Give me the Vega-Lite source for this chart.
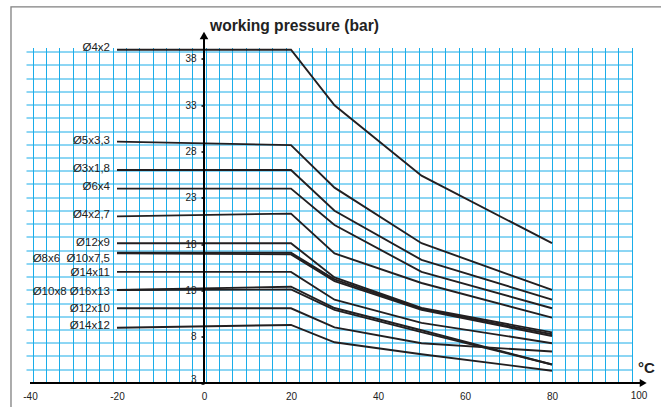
{
  "$schema": "https://vega.github.io/schema/vega-lite/v6.json",
  "width": 606,
  "height": 335.5,
  "autosize": {"type": "none"},
  "padding": {"left": 26, "top": 47.5, "right": 29, "bottom": 24},
  "background": "white",
  "config": {"view": {"stroke": null}, "font": "Liberation Sans"},
  "datasets": {
    "curves": [
      {"tube": "Ø4x2", "t": -20, "p": 39}, {"tube": "Ø4x2", "t": 20, "p": 39}, {"tube": "Ø4x2", "t": 30, "p": 33}, {"tube": "Ø4x2", "t": 50, "p": 25.4}, {"tube": "Ø4x2", "t": 80, "p": 18.1},
      {"tube": "Ø5x3,3", "t": -20, "p": 29.07}, {"tube": "Ø5x3,3", "t": 20, "p": 28.7}, {"tube": "Ø5x3,3", "t": 30, "p": 24.1}, {"tube": "Ø5x3,3", "t": 50, "p": 18.1}, {"tube": "Ø5x3,3", "t": 80, "p": 13.05},
      {"tube": "Ø3x1,8", "t": -20, "p": 26}, {"tube": "Ø3x1,8", "t": 20, "p": 26}, {"tube": "Ø3x1,8", "t": 30, "p": 21.6}, {"tube": "Ø3x1,8", "t": 50, "p": 16.3}, {"tube": "Ø3x1,8", "t": 80, "p": 12.0},
      {"tube": "Ø6x4", "t": -20, "p": 24}, {"tube": "Ø6x4", "t": 20, "p": 24}, {"tube": "Ø6x4", "t": 30, "p": 20.07}, {"tube": "Ø6x4", "t": 50, "p": 15.0}, {"tube": "Ø6x4", "t": 80, "p": 11.07},
      {"tube": "Ø4x2,7", "t": -20, "p": 21.0}, {"tube": "Ø4x2,7", "t": 20, "p": 21.3}, {"tube": "Ø4x2,7", "t": 30, "p": 17.0}, {"tube": "Ø4x2,7", "t": 50, "p": 13.8}, {"tube": "Ø4x2,7", "t": 80, "p": 10.06},
      {"tube": "Ø12x9", "t": -20, "p": 18.1}, {"tube": "Ø12x9", "t": 20, "p": 18.1}, {"tube": "Ø12x9", "t": 30, "p": 14.4}, {"tube": "Ø12x9", "t": 50, "p": 11.1}, {"tube": "Ø12x9", "t": 80, "p": 8.47},
      {"tube": "Ø8x6", "t": -20, "p": 17.07}, {"tube": "Ø8x6", "t": 20, "p": 17.07}, {"tube": "Ø8x6", "t": 30, "p": 14.2}, {"tube": "Ø8x6", "t": 50, "p": 11.0}, {"tube": "Ø8x6", "t": 80, "p": 8.26},
      {"tube": "Ø10x7,5", "t": -20, "p": 17.0}, {"tube": "Ø10x7,5", "t": 20, "p": 16.9}, {"tube": "Ø10x7,5", "t": 30, "p": 14.0}, {"tube": "Ø10x7,5", "t": 50, "p": 10.9}, {"tube": "Ø10x7,5", "t": 80, "p": 8.08},
      {"tube": "Ø14x11", "t": -20, "p": 15.0}, {"tube": "Ø14x11", "t": 20, "p": 15.0}, {"tube": "Ø14x11", "t": 30, "p": 12.0}, {"tube": "Ø14x11", "t": 50, "p": 9.5}, {"tube": "Ø14x11", "t": 80, "p": 7.3},
      {"tube": "Ø10x8", "t": -20, "p": 13.05}, {"tube": "Ø10x8", "t": 20, "p": 13.4}, {"tube": "Ø10x8", "t": 30, "p": 11.1}, {"tube": "Ø10x8", "t": 50, "p": 8.7}, {"tube": "Ø10x8", "t": 80, "p": 5.0},
      {"tube": "Ø16x13", "t": -20, "p": 13.05}, {"tube": "Ø16x13", "t": 20, "p": 13.1}, {"tube": "Ø16x13", "t": 30, "p": 10.9}, {"tube": "Ø16x13", "t": 50, "p": 8.5}, {"tube": "Ø16x13", "t": 80, "p": 5.0},
      {"tube": "Ø12x10", "t": -20, "p": 11.07}, {"tube": "Ø12x10", "t": 20, "p": 11.07}, {"tube": "Ø12x10", "t": 30, "p": 9.0}, {"tube": "Ø12x10", "t": 50, "p": 7.3}, {"tube": "Ø12x10", "t": 80, "p": 6.4},
      {"tube": "Ø14x12", "t": -20, "p": 8.97}, {"tube": "Ø14x12", "t": 20, "p": 9.27}, {"tube": "Ø14x12", "t": 30, "p": 7.4}, {"tube": "Ø14x12", "t": 50, "p": 6.1}, {"tube": "Ø14x12", "t": 80, "p": 4.33}
    ],
    "tags": [
      {"tag": "Ø4x2", "t": -20, "p": 39.17},
      {"tag": "Ø5x3,3", "t": -20, "p": 29.14},
      {"tag": "Ø3x1,8", "t": -20, "p": 26.14},
      {"tag": "Ø6x4", "t": -20, "p": 24.12},
      {"tag": "Ø4x2,7", "t": -20, "p": 21.12},
      {"tag": "Ø12x9", "t": -20, "p": 18.07},
      {"tag": "Ø8x6\u00a0\u00a0Ø10x7,5", "t": -20, "p": 16.4},
      {"tag": "Ø14x11", "t": -20, "p": 14.83},
      {"tag": "Ø10x8\u00a0Ø16x13", "t": -20, "p": 12.88},
      {"tag": "Ø12x10", "t": -20, "p": 10.96},
      {"tag": "Ø14x12", "t": -20, "p": 9.13}
    ]
  },
  "layer": [
    {
      "data": {"values": [{}]},
      "mark": {"type": "rect", "fillOpacity": 0, "stroke": "#808080", "strokeWidth": 1.3},
      "encoding": {
        "x": {"datum": -44.37, "type": "quantitative", "axis": null},
        "x2": {"datum": 109.4},
        "y": {"datum": 43.62, "type": "quantitative", "axis": null},
        "y2": {"datum": -2.1}
      }
    },
    {
      "data": {"name": "curves"},
      "mark": {"type": "line", "color": "#231f20", "strokeWidth": 1.9},
      "encoding": {
        "x": {
          "field": "t", "type": "quantitative",
          "scale": {"domain": [-40.92, 98.39], "nice": false, "zero": false},
          "axis": {
            "orient": "bottom", "title": null, "labels": false, "ticks": false, "domain": false,
            "grid": true, "gridColor": "#1aade9", "gridWidth": 1,
            "values": [-39.379, -36.319, -33.259, -30.199, -27.139, -24.079, -21.019, -17.959, -14.899, -11.839, -8.779, -5.719, -2.659, 0.401, 3.461, 6.521, 9.581, 12.641, 15.701, 18.761, 21.821, 24.881, 27.941, 31.001, 34.061, 37.121, 40.181, 43.241, 46.301, 49.361, 52.421, 55.481, 58.541, 61.601, 64.661, 67.721, 70.781, 73.841, 76.901, 79.961, 83.021, 86.081, 89.141, 92.201, 95.261, 98.321]
          }
        },
        "y": {
          "field": "p", "type": "quantitative",
          "scale": {"domain": [3, 39.24], "nice": false, "zero": false},
          "axis": {
            "orient": "left", "title": null, "labels": false, "ticks": false, "domain": false,
            "grid": true, "gridColor": "#1aade9", "gridWidth": 1,
            "values": [38.789, 37.360, 35.931, 34.501, 33.072, 31.643, 30.214, 28.784, 27.355, 25.926, 24.497, 23.068, 21.638, 20.209, 18.780, 17.351, 15.921, 14.492, 13.063, 11.634, 10.205, 8.775, 7.346, 5.917, 4.488]
          }
        },
        "detail": {"field": "tube", "type": "nominal"}
      }
    },
    {
      "data": {"name": "tags"},
      "mark": {"type": "text", "align": "right", "baseline": "middle", "dx": -7, "fontSize": 11.5, "color": "#222222", "font": "Liberation Sans"},
      "encoding": {
        "x": {
          "field": "t", "type": "quantitative",
          "axis": {
            "orient": "bottom", "title": null, "grid": false, "ticks": false, "domain": false,
            "values": [-40, -20, 0, 20, 40, 60, 80], "labelExpr": "'' + datum.value",
            "labelPadding": 8, "labelFontSize": 10, "labelColor": "#222222", "labelFlush": false, "labelOverlap": false, "labelBound": false
          }
        },
        "y": {
          "field": "p", "type": "quantitative",
          "axis": {
            "orient": "left", "offset": -178, "title": null, "grid": false, "domain": false,
            "values": [3, 8, 13, 18, 23, 28, 33, 38],
            "ticks": true, "tickSize": 3, "tickColor": "#000000", "tickWidth": 1.5,
            "labelPadding": 5, "labelFontSize": 10, "labelColor": "#222222", "labelOverlap": false, "labelBound": false,
            "labelOffset": {"condition": {"test": "datum.value === 3", "value": -4}, "value": 0}
          }
        },
        "text": {"field": "tag", "type": "nominal"}
      }
    },
    {
      "data": {"values": [{}]},
      "mark": {"type": "rule", "color": "#000000", "strokeWidth": 2},
      "encoding": {
        "x": {"datum": 0, "type": "quantitative", "axis": null},
        "y": {"datum": 3, "type": "quantitative", "axis": null},
        "y2": {"datum": 40.3}
      }
    },
    {
      "data": {"values": [{}]},
      "mark": {"type": "rule", "color": "#000000", "strokeWidth": 2},
      "encoding": {
        "x": {"datum": -40, "type": "quantitative", "axis": null},
        "x2": {"datum": 100.5},
        "y": {"datum": 3, "type": "quantitative", "axis": null}
      }
    },
    {
      "data": {"values": [{}]},
      "mark": {"type": "point", "shape": "triangle-up", "filled": true, "color": "#000000", "size": 75, "opacity": 1},
      "encoding": {
        "x": {"datum": 0, "type": "quantitative", "axis": null},
        "y": {"datum": 40.54, "type": "quantitative", "axis": null}
      }
    },
    {
      "data": {"values": [{}]},
      "mark": {"type": "point", "shape": "triangle-right", "filled": true, "color": "#000000", "size": 64, "opacity": 1},
      "encoding": {
        "x": {"datum": 100.97, "type": "quantitative", "axis": null},
        "y": {"datum": 3, "type": "quantitative", "axis": null}
      }
    },
    {
      "data": {"values": [{}]},
      "mark": {"type": "text", "text": "working pressure (bar)", "align": "left", "baseline": "alphabetic", "fontSize": 15.6, "fontWeight": "bold", "color": "#222222", "font": "Liberation Sans"},
      "encoding": {
        "x": {"datum": 1.38, "type": "quantitative", "axis": null},
        "y": {"datum": 41.03, "type": "quantitative", "axis": null}
      }
    },
    {
      "data": {"values": [{}]},
      "mark": {"type": "text", "text": "°C", "align": "left", "baseline": "alphabetic", "fontSize": 15, "fontWeight": "bold", "color": "#222222", "font": "Liberation Sans"},
      "encoding": {
        "x": {"datum": 99.77, "type": "quantitative", "axis": null},
        "y": {"datum": 4.11, "type": "quantitative", "axis": null}
      }
    },
    {
      "data": {"values": [{}]},
      "mark": {"type": "text", "text": "100", "align": "center", "baseline": "top", "dy": 8, "fontSize": 10, "color": "#222222", "font": "Liberation Sans"},
      "encoding": {
        "x": {"datum": 100, "type": "quantitative", "axis": null},
        "y": {"datum": 3, "type": "quantitative", "axis": null}
      }
    }
  ],
  "resolve": {"axis": {"x": "independent", "y": "independent"}}
}
